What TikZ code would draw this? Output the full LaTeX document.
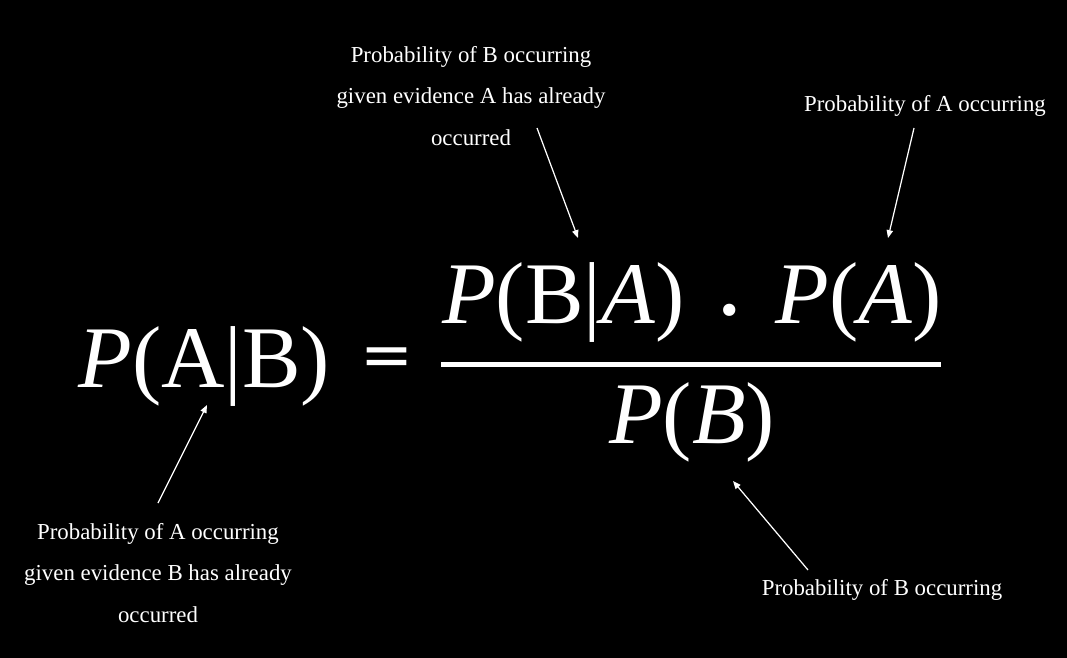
\documentclass[tikz,border=0pt]{standalone}
\usepackage{fontspec}
\setmainfont{Liberation Serif}
\newfontfamily\symfont{DejaVu Sans}
\usetikzlibrary{arrows.meta}
\newcommand\lblsize{\fontsize{13}{23.5}\selectfont}
\newcommand\eqsize{\fontsize{50}{60}\selectfont}

\begin{document}
\begin{tikzpicture}[x=0.02cm, y=-0.02cm,
  lbl/.style={text=white, align=center, font=\lblsize, inner sep=0pt, anchor=north},
  eq/.style={text=white, font=\eqsize, inner sep=0pt},
  fl/.style={-{Triangle[length=4.5pt, width=3.6pt]}, white, line width=0.7pt}]
  \fill[black] (0,0) rectangle (1067,658);
  % formula
  \node[eq, anchor=base west] (lhs) at (78,387) {\textit{P}(A|B)};
  \node[eq, font=\symfont\fontsize{36}{40}\selectfont] (eqs) at (387,362) {=};
  \node[eq, anchor=base] (num) at (692,323) {\textit{P}(B|\textit{A})\hspace{0.37em}{\symfont\fontsize{24}{24}\selectfont ∙}\hspace{0.37em}\textit{P}(\textit{A})};
  \node[eq, anchor=base] (den) at (692,443) {\textit{P}(\textit{B})};
  \draw[white, line width=2.85pt] (441,364.5) -- (941,364.5);
  % labels
  \node[lbl] (lBA) at (471,46) {Probability of B occurring\\given evidence A has already\\occurred};
  \node[lbl] (lA) at (925,95) {Probability of A occurring};
  \node[lbl] (lAB) at (158,523) {Probability of A occurring\\given evidence B has already\\occurred};
  \node[lbl] (lB) at (882,579) {Probability of B occurring};
  % arrows
  \coordinate (tBA) at (537,128); \coordinate (hBA) at (578,238);
  \coordinate (tA) at (914,128); \coordinate (hA) at (888,238);
  \coordinate (tAB) at (158,503); \coordinate (hAB) at (207,405);
  \coordinate (tB) at (808,570); \coordinate (hB) at (733,481);
  \draw[fl] (tBA)--(hBA); \draw[fl] (tA)--(hA);
  \draw[fl] (tAB)--(hAB); \draw[fl] (tB)--(hB);
\end{tikzpicture}
\end{document}
